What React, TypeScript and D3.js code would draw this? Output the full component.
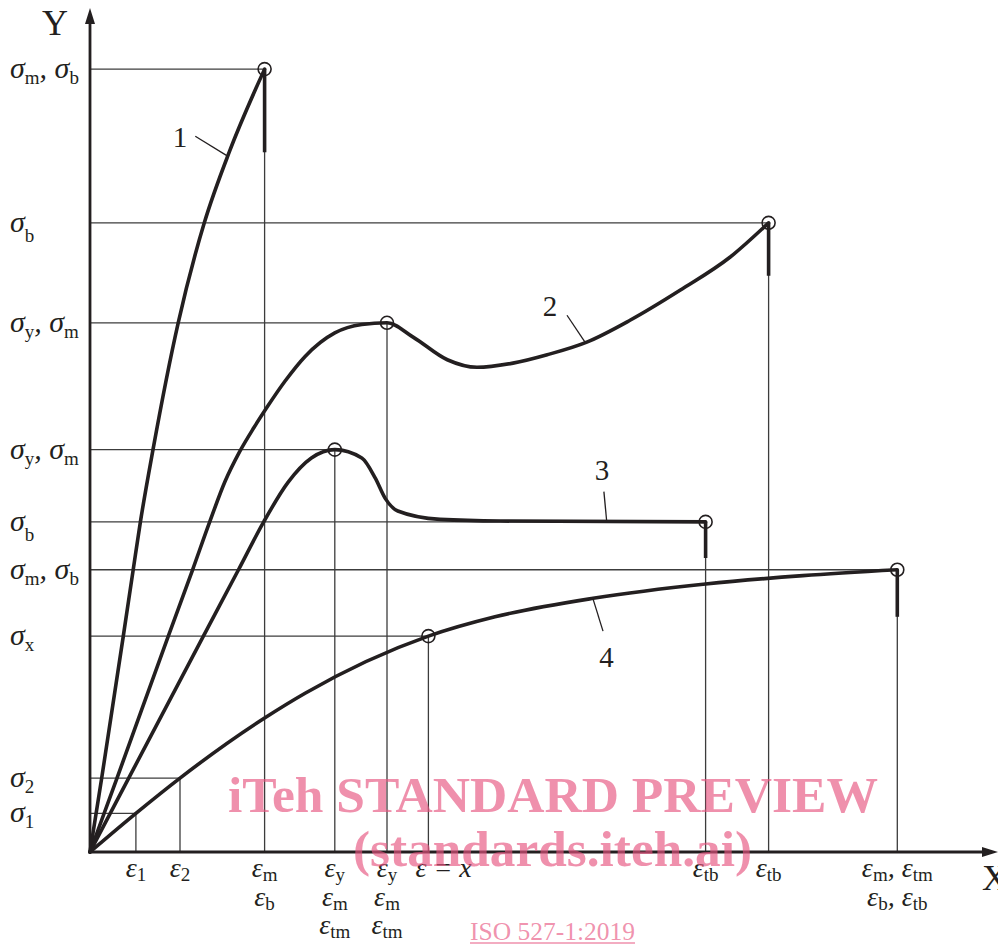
import React from 'react';
import * as d3 from 'd3';

const W = 998;
const H = 945;

// Curves: [strain, stress] in arbitrary units
const curve1: [number, number][] = [[0, 0], [0.13, 8.8], [0.37, 25.7], [0.48, 33.6], [0.56, 39.3], [0.7, 47.9], [0.98, 63.0], [1.27, 74.9], [1.55, 83.4], [1.94, 93.2]];
const curve2: [number, number][] = [[0, 0], [0.3, 8.8], [0.87, 25.7], [1.14, 33.6], [1.33, 39.3], [1.5, 44.1], [1.66, 47.6], [1.82, 50.5], [1.97, 53.0], [2.17, 56.1], [2.39, 59.0], [2.72, 61.8], [3.02, 62.8], [3.3, 63.0], [3.59, 61.3], [3.97, 58.6], [4.3, 57.7], [4.7, 58.2], [5.08, 59.2], [5.52, 60.7], [6.0, 63.3], [6.56, 66.9], [7.11, 70.8], [7.54, 74.9]];
const curve3: [number, number][] = [[0, 0], [0.43, 8.8], [1.26, 25.7], [1.65, 33.6], [1.93, 39.3], [2.2, 44.0], [2.46, 46.9], [2.72, 47.9], [3.02, 46.9], [3.17, 44.5], [3.28, 42.1], [3.42, 40.6], [3.89, 39.6], [4.56, 39.4], [6.84, 39.3]];
const curve4: [number, number][] = [[0, 0], [0.51, 4.6], [1.0, 8.8], [1.94, 15.95], [2.39, 18.9], [3.76, 25.7], [4.5, 28.0], [5.59, 30.2], [6.84, 31.9], [7.92, 32.9], [8.97, 33.6]];
const curves = [curve1, curve2, curve3, curve4];
const breakDrops = [9.9, 6.3, 4.3, 5.6];

const curveNames = ['1', '2', '3', '4'];
const curveNamePos: [number, number][] = [[1.0, 85.2], [5.11, 65.1], [5.69, 45.5], [5.74, 23.3]];
const leaderFrom: [number, number][] = [[1.17, 85.2], [5.3, 63.9], [5.71, 42.9], [5.59, 30.1]];
const leaderTo: [number, number][] = [[1.52, 82.9], [5.5, 60.7], [5.74, 39.5], [5.7, 26.3]];

// Characteristic points
const markStrain = [1.94, 7.54, 3.3, 2.72, 6.84, 8.97, 3.76];
const markStress = [93.2, 74.9, 63.0, 47.9, 39.3, 33.6, 25.7];

// Y tick (stress) values, labels and the strain where each guide line ends
const yTicks = [93.2, 74.9, 63.0, 47.9, 39.3, 33.6, 25.7, 8.8, 4.6];
const yTickEnds = [1.94, 7.54, 3.3, 2.72, 6.84, 8.97, 3.76, 1.0, 0.51];
const yTickLabels: [string, string][][] = [
  [['σ', 'm'], [', σ', 'b']],
  [['σ', 'b']],
  [['σ', 'y'], [', σ', 'm']],
  [['σ', 'y'], [', σ', 'm']],
  [['σ', 'b']],
  [['σ', 'm'], [', σ', 'b']],
  [['σ', 'x']],
  [['σ', '2']],
  [['σ', '1']],
];

// X tick (strain) values, labels and the stress where each guide line ends
const xTicks = [0.51, 1.0, 1.94, 2.72, 3.3, 3.76, 6.84, 7.54, 8.97];
const xTickTops = [4.6, 8.8, 93.2, 47.9, 63.0, 25.7, 39.3, 74.9, 33.6];
const xTickLabels: [string, string][][][] = [
  [[['ε', '1']]],
  [[['ε', '2']]],
  [[['ε', 'm']], [['ε', 'b']]],
  [[['ε', 'y']], [['ε', 'm']], [['ε', 'tm']]],
  [[['ε', 'y']], [['ε', 'm']], [['ε', 'tm']]],
  [[['ε = x', '']]],
  [[['ε', 'tb']]],
  [[['ε', 'tb']]],
  [[['ε', 'm'], [', ε', 'tm']], [['ε', 'b'], [', ε', 'tb']]],
];

const FONT = '"Liberation Serif", "Times New Roman", serif';
const INK = '#231f20';
const GUIDE = '#3c3c3c';

function MathLabel(props: { x: number; y: number; parts: [string, string][]; anchor: string; fs: number; sfs: number; subDy: number }) {
  const { x, y, parts, anchor, fs, sfs, subDy } = props;
  const spans: any[] = [];
  let cur = 0;
  parts.forEach(([m, s], i) => {
    spans.push(
      <tspan key={'m' + i} dy={-cur} fontStyle="italic">
        {m}
      </tspan>
    );
    cur = 0;
    if (s) {
      spans.push(
        <tspan key={'s' + i} dy={subDy} fontSize={sfs} fontStyle="normal">
          {s}
        </tspan>
      );
      cur = subDy;
    }
  });
  return (
    <text x={x} y={y} textAnchor={anchor} fontSize={fs} fontFamily={FONT} fill={INK}>
      {spans}
    </text>
  );
}

export default function App() {
  const x = d3.scaleLinear().domain([0, 10]).range([90, 990]);
  const y = d3.scaleLinear().domain([0, 100]).range([852, 12]);
  const line = d3
    .line<[number, number]>()
    .x((d) => x(d[0]))
    .y((d) => y(d[1]))
    .curve(d3.curveMonotoneX);

  const x0 = x(0);
  const y0 = y(0);

  return (
    <svg width={W} height={H} style={{ position: 'absolute', left: 0, top: 0, background: '#fff' }}>
      <rect x={0} y={0} width={W} height={H} fill="#fff" />
      {/* guide lines */}
      {yTicks.map((v, i) => (
        <line key={'hy' + i} x1={x0} x2={x(yTickEnds[i])} y1={y(v)} y2={y(v)} stroke={GUIDE} strokeWidth={1.3} />
      ))}
      {xTicks.map((v, i) => (
        <line key={'vx' + i} x1={x(v)} x2={x(v)} y1={y0} y2={y(xTickTops[i])} stroke={GUIDE} strokeWidth={1.3} />
      ))}

      {/* curves */}
      {curves.map((c, i) => (
        <path key={'c' + i} d={line(c) || ''} fill="none" stroke={INK} strokeWidth={3.6} strokeLinejoin="round" strokeLinecap="round" />
      ))}
      {curves.map((c, i) => {
        const e = c[c.length - 1];
        return <line key={'b' + i} x1={x(e[0])} x2={x(e[0])} y1={y(e[1])} y2={y(e[1] - breakDrops[i])} stroke={INK} strokeWidth={3.6} />;
      })}

      {/* circles */}
      {markStrain.map((v, i) => (
        <circle key={'m' + i} cx={x(v)} cy={y(markStress[i])} r={6.5} fill="none" stroke={INK} strokeWidth={1.6} />
      ))}

      {/* leaders and curve numbers */}
      {curveNames.map((n, i) => (
        <g key={'n' + i}>
          <line x1={x(leaderFrom[i][0])} y1={y(leaderFrom[i][1])} x2={x(leaderTo[i][0])} y2={y(leaderTo[i][1])} stroke={INK} strokeWidth={1.3} />
          <text x={x(curveNamePos[i][0])} y={y(curveNamePos[i][1])} dy="0.36em" textAnchor="middle" fontSize={29} fontFamily={FONT} fill={INK}>
            {n}
          </text>
        </g>
      ))}

      {/* axes */}
      <line x1={x0} y1={y0} x2={x0} y2={20} stroke={INK} strokeWidth={2.8} />
      <path d={`M${x0},8 L${x0 - 5},24 L${x0 + 5},24 Z`} fill={INK} />
      <line x1={x0} y1={y0} x2={988} y2={y0} stroke={INK} strokeWidth={2.8} />
      <path d={`M998,${y0} L982,${y0 - 5} L982,${y0 + 5} Z`} fill={INK} />
      <text x={42} y={35} fontSize={36} fontFamily={FONT} fill={INK}>
        Y
      </text>
      <text x={982} y={890} fontSize={36} fontFamily={FONT} fill={INK}>
        X
      </text>

      {/* y tick labels */}
      {yTicks.map((v, i) => (
        <MathLabel key={'yl' + i} x={10} y={y(v) + 9} parts={yTickLabels[i]} anchor="start" fs={30} sfs={19} subDy={yTickLabels[i].length === 1 && yTickLabels[i][0][1] === 'b' ? 10 : 6} />
      ))}

      {/* x tick labels */}
      {xTicks.map((v, i) =>
        xTickLabels[i].map((row, r) => {
          const isEq = row[0][1] === '';
          return (
            <MathLabel
              key={'xl' + i + '_' + r}
              x={isEq ? x(v) - 13 : x(v)}
              y={y0 + 25 + r * 28.5}
              parts={row}
              anchor={isEq ? 'start' : 'middle'}
              fs={28}
              sfs={19}
              subDy={4}
            />
          );
        })
      )}

      {/* watermark */}
      <g fill="rgb(231,84,128)" fillOpacity={0.65} fontFamily={FONT} fontWeight="bold">
        <text x={228} y={812} fontSize={51} textLength={650} lengthAdjust="spacingAndGlyphs">
          iTeh STANDARD PREVIEW
        </text>
        <text x={353} y={866} fontSize={51} textLength={399} lengthAdjust="spacingAndGlyphs">
          (standards.iteh.ai)
        </text>
      </g>
      <text x={470} y={940} fontSize={25} fontFamily={FONT} fill="rgb(231,84,128)" fillOpacity={0.65} textLength={165} lengthAdjust="spacingAndGlyphs">
        ISO 527-1:2019
      </text>
      <line x1={470} x2={635} y1={943} y2={943} stroke="rgb(231,84,128)" strokeOpacity={0.65} strokeWidth={1.3} />
    </svg>
  );
}
